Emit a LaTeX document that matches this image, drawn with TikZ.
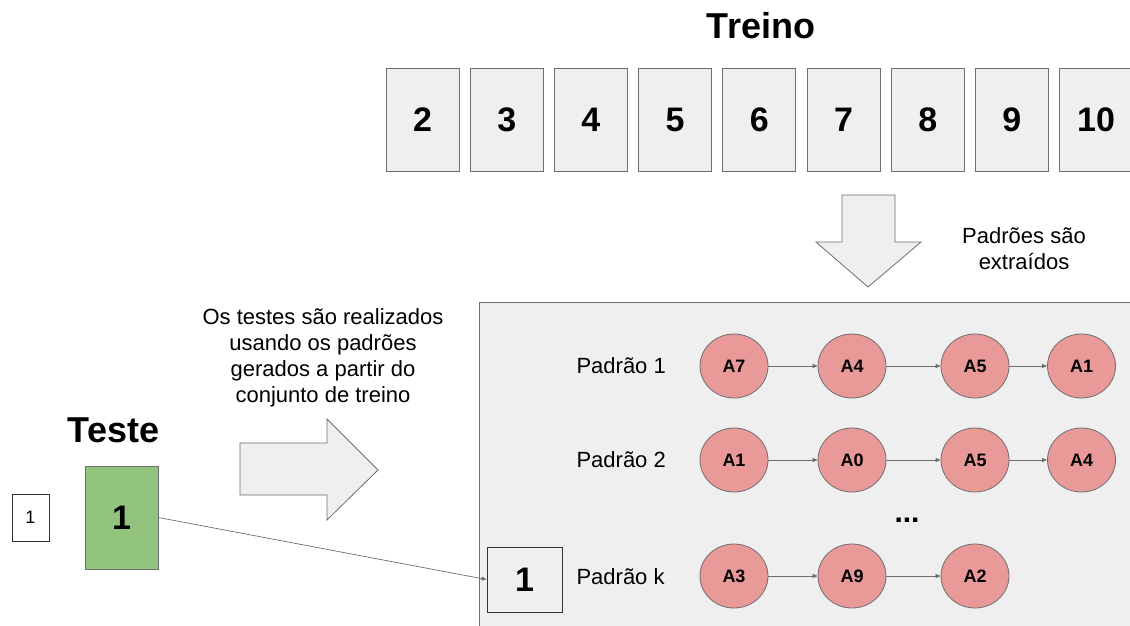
\documentclass[tikz,border=0pt]{standalone}
\usepackage{fontspec}
\setmainfont{Liberation Sans}
\usetikzlibrary{shapes.geometric,arrows.meta}
\definecolor{boxgray}{HTML}{EFEFEF}
\definecolor{linegray}{HTML}{6E6E6E}
\definecolor{nodered}{HTML}{EA9999}
\definecolor{testgreen}{HTML}{93C47D}
\begin{document}
\begin{tikzpicture}[x=1pt,y=-1pt,
		fold/.style={draw=linegray,fill=boxgray,line width=0.8pt,minimum width=73pt,minimum height=103pt,font=\fontsize{34}{40}\selectfont\bfseries},
		attr/.style={ellipse,draw=linegray,fill=nodered,line width=0.8pt,minimum width=68pt,minimum height=64pt,inner sep=0pt,font=\fontsize{18}{21}\selectfont\bfseries},
		caption/.style={font=\fontsize{22}{26}\selectfont,align=center},
		heading/.style={font=\fontsize{36}{42}\selectfont\bfseries},
		seq/.style={-{Triangle[length=5pt,width=4pt]},draw=linegray,line width=0.7pt},
		bigarrow/.style={draw=linegray,fill=boxgray,line width=0.8pt}]
		\useasboundingbox (0,0) rectangle (1130,625);
		\node[heading,anchor=base] (treino) at (761,38) {Treino};
		\node[fold] (f2) at (422.5,119.5) {2};
		\node[fold] (f3) at (506.7,119.5) {3};
		\node[fold] (f4) at (590.9,119.5) {4};
		\node[fold] (f5) at (675.1,119.5) {5};
		\node[fold] (f6) at (759.3,119.5) {6};
		\node[fold] (f7) at (843.5,119.5) {7};
		\node[fold] (f8) at (927.7,119.5) {8};
		\node[fold] (f9) at (1011.9,119.5) {9};
		\node[fold] (f10) at (1096.1,119.5) {10};
		\draw[bigarrow] (842,195) -- (895,195) -- (895,242) -- (921,242) -- (868,287) -- (816,242) -- (842,242) -- cycle;
		\node[caption] (extr) at (1024,249) {Padrões são\\extraídos};
		\draw[draw=linegray,fill=boxgray,line width=0.8pt] (479,302) rectangle (1140,640);
		\node[caption,anchor=west] (p1) at (573,366) {Padrão 1};
		\node[caption,anchor=west] (p2) at (573,460) {Padrão 2};
		\node[caption,anchor=west] (pk) at (573,577) {Padrão k};
		\node[attr] (a17) at (734,366) {A7};
		\node[attr] (a14) at (852,366) {A4};
		\node[attr] (a15) at (975,366) {A5};
		\node[attr] (a11) at (1081.5,366) {A1};
		\node[attr] (a21) at (734,460) {A1};
		\node[attr] (a20) at (852,460) {A0};
		\node[attr] (a25) at (975,460) {A5};
		\node[attr] (a24) at (1081.5,460) {A4};
		\node[attr] (ak3) at (734,576) {A3};
		\node[attr] (ak9) at (852,576) {A9};
		\node[attr] (ak2) at (975,576) {A2};
		\node[font=\fontsize{30}{36}\selectfont\bfseries] (dots) at (907,520) {...};
		\draw[seq] (a17) -- (a14);
		\draw[seq] (a14) -- (a15);
		\draw[seq] (a15) -- (a11);
		\draw[seq] (a21) -- (a20);
		\draw[seq] (a20) -- (a25);
		\draw[seq] (a25) -- (a24);
		\draw[seq] (ak3) -- (ak9);
		\draw[seq] (ak9) -- (ak2);
		\node[draw=black!80,fill=boxgray,line width=0.8pt,minimum width=75pt,minimum height=65pt,font=\fontsize{34}{40}\selectfont\bfseries] (pbox) at (524.5,579.5) {1};
		\node[caption] (desc) at (323,358) {Os testes são realizados\\usando os padrões\\gerados a partir do\\conjunto de treino};
		\draw[bigarrow] (240,443) -- (327,443) -- (327,419) -- (378,470) -- (327,520) -- (327,495) -- (240,495) -- cycle;
		\node[heading,anchor=base] (teste) at (113.5,442) {Teste};
		\node[fold,fill=testgreen] (tbox) at (121.5,517.5) {1};
		\node[draw=black!80,fill=white,line width=0.8pt,minimum width=37pt,minimum height=47pt,font=\fontsize{18}{22}\selectfont] (small) at (30.5,517.5) {1};
		\draw[seq] (tbox.east) -- (pbox.west);
	\end{tikzpicture}
\end{document}
